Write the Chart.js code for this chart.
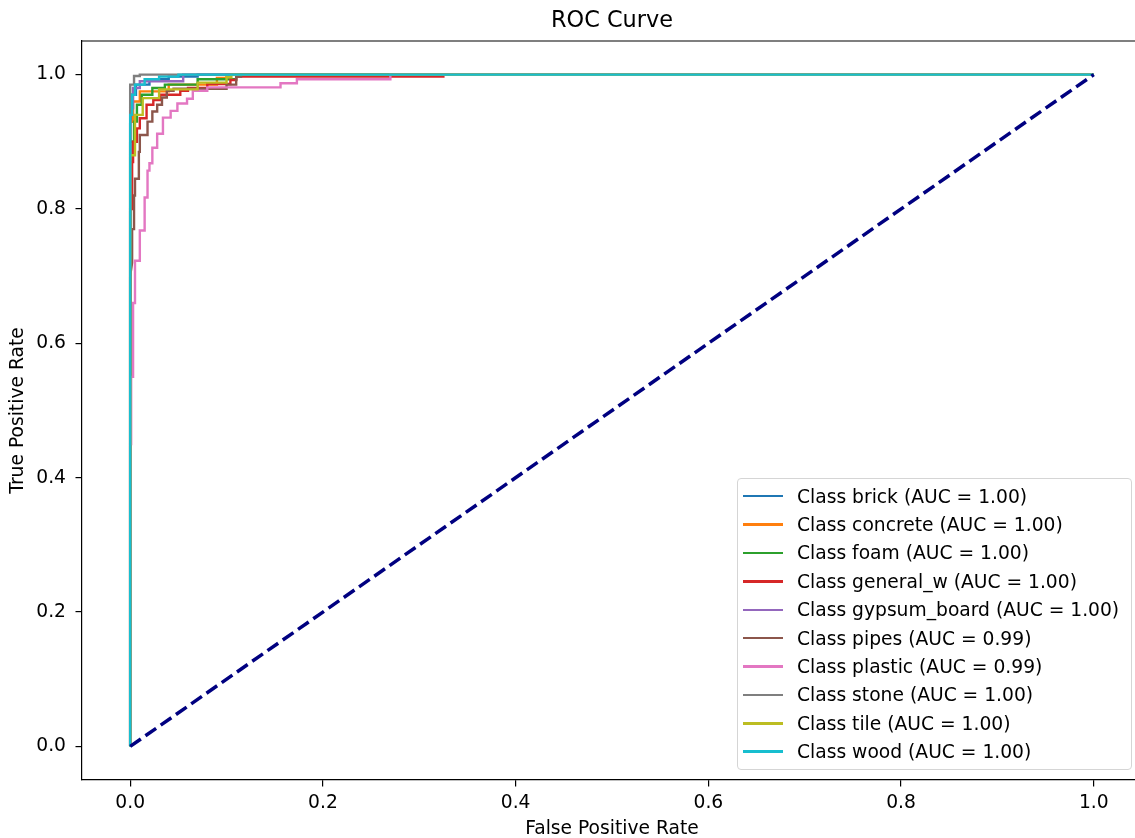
<!DOCTYPE html>
<html>
<head>
<meta charset="utf-8">
<script src="https://cdn.jsdelivr.net/npm/chart.js@4.4.0/dist/chart.umd.min.js"></script>
<style>
    body { margin: 0; overflow: hidden; background: #fff; }
    #wrap { position: relative; width: 1135px; height: 838px; overflow: hidden; }
    #legend {
        position: absolute; left: 737px; top: 478px; width: 395px;
        box-sizing: border-box; padding: 3px 0 3px 5px;
        background: rgba(255, 255, 255, 0.8);
        border: 1px solid #d5d5d5; border-radius: 4px;
        font-family: "DejaVu Sans", sans-serif; font-size: 18.7px; color: #000;
    }
    .row { display: flex; align-items: center; height: 28.4px; white-space: nowrap; }
    .swatch { width: 40px; height: 2.5px; margin-right: 14px; flex: none; }
</style>
</head>
<body>
<div id="wrap">
    <canvas id="roc" width="1147" height="838"></canvas>
    <div id="legend"></div>
</div>
<script>
const classNames = ['brick', 'concrete', 'foam', 'general_w', 'gypsum_board', 'pipes', 'plastic', 'stone', 'tile', 'wood'];
const aucValues = [1.00, 1.00, 1.00, 1.00, 1.00, 0.99, 0.99, 1.00, 1.00, 1.00];
const colors = ['#1f77b4', '#ff7f0e', '#2ca02c', '#d62728', '#9467bd', '#8c564b', '#e377c2', '#7f7f7f', '#bcbd22', '#17becf'];
const xTicks = [0, 0.2, 0.4, 0.6, 0.8, 1.0];
const yTicks = [0, 0.2, 0.4, 0.6, 0.8, 1.0];

// fpr / tpr per class (staircase corners)
const brickFpr = [0, 0, 0.002, 0.002, 0.006, 0.006, 0.02, 0.02, 0.04, 0.04, 0.07, 0.07, 1];
const brickTpr = [0, 0.93, 0.93, 0.97, 0.97, 0.985, 0.985, 0.993, 0.993, 0.997, 0.997, 1, 1];
const concreteFpr = [0, 0, 0.003, 0.003, 0.01, 0.01, 0.04, 0.04, 0.09, 0.09, 0.1, 0.1, 1];
const concreteTpr = [0, 0.93, 0.93, 0.96, 0.96, 0.975, 0.975, 0.985, 0.985, 0.995, 0.995, 1, 1];
const foamFpr = [0, 0, 0.004, 0.004, 0.007, 0.007, 0.012, 0.012, 0.023, 0.023, 0.036, 0.036, 0.07, 0.07, 0.11, 0.11, 1];
const foamTpr = [0, 0.90, 0.90, 0.93, 0.93, 0.955, 0.955, 0.97, 0.97, 0.98, 0.98, 0.985, 0.985, 0.993, 0.993, 1, 1];
const generalFpr = [0, 0, 0.002, 0.002, 0.003, 0.003, 0.007, 0.007, 0.010, 0.010, 0.017, 0.017, 0.024, 0.024, 0.031, 0.031, 0.052, 0.052, 0.06, 0.06, 0.08, 0.08, 0.104, 0.104, 0.11, 0.11, 0.325, 0.325, 1];
const generalTpr = [0, 0.80, 0.80, 0.87, 0.87, 0.90, 0.90, 0.92, 0.92, 0.935, 0.935, 0.955, 0.955, 0.962, 0.962, 0.97, 0.97, 0.976, 0.976, 0.98, 0.98, 0.986, 0.986, 0.992, 0.992, 0.997, 0.997, 1, 1];
const gypsumFpr = [0, 0, 0.003, 0.003, 0.01, 0.01, 0.055, 0.055, 1];
const gypsumTpr = [0, 0.95, 0.95, 0.98, 0.98, 0.99, 0.99, 1, 1];
const pipesFpr = [0, 0, 0.002, 0.002, 0.004, 0.004, 0.005, 0.005, 0.009, 0.009, 0.01, 0.01, 0.018, 0.018, 0.023, 0.023, 0.028, 0.028, 0.033, 0.033, 0.038, 0.038, 0.045, 0.045, 0.1, 0.1, 0.11, 0.11, 0.115, 0.115, 1];
const pipesTpr = [0, 0.70, 0.72, 0.77, 0.77, 0.82, 0.82, 0.845, 0.845, 0.885, 0.885, 0.91, 0.91, 0.93, 0.93, 0.945, 0.945, 0.955, 0.955, 0.966, 0.966, 0.976, 0.976, 0.979, 0.979, 0.985, 0.985, 0.997, 0.997, 1, 1];
const plasticFpr = [0, 0, 0.001, 0.001, 0.003, 0.003, 0.005, 0.005, 0.010, 0.010, 0.015, 0.015, 0.018, 0.018, 0.020, 0.020, 0.023, 0.023, 0.028, 0.028, 0.034, 0.034, 0.042, 0.042, 0.049, 0.049, 0.059, 0.059, 0.065, 0.065, 0.080, 0.080, 0.156, 0.156, 0.173, 0.173, 0.27, 0.27, 1];
const plasticTpr = [0, 0.45, 0.45, 0.55, 0.55, 0.66, 0.66, 0.723, 0.723, 0.768, 0.768, 0.817, 0.817, 0.857, 0.857, 0.868, 0.868, 0.891, 0.891, 0.912, 0.912, 0.936, 0.936, 0.946, 0.946, 0.957, 0.957, 0.964, 0.964, 0.976, 0.976, 0.981, 0.981, 0.987, 0.987, 0.993, 0.993, 1, 1];
const stoneFpr = [0, 0, 0.004, 0.004, 0.01, 0.01, 1];
const stoneTpr = [0, 0.985, 0.985, 0.998, 0.998, 1, 1];
const tileFpr = [0, 0, 0.005, 0.005, 0.013, 0.013, 0.03, 0.03, 0.07, 0.07, 0.1, 0.1, 0.105, 0.105, 1];
const tileTpr = [0, 0.88, 0.88, 0.94, 0.94, 0.965, 0.965, 0.978, 0.978, 0.988, 0.988, 0.996, 0.996, 1, 1];
const woodFpr = [0, 0, 0.002, 0.002, 0.005, 0.005, 0.015, 0.015, 0.03, 0.03, 0.05, 0.05, 1];
const woodTpr = [0, 0.94, 0.94, 0.97, 0.97, 0.985, 0.985, 0.993, 0.993, 0.997, 0.997, 1, 1];
const chanceFpr = [0, 1];
const chanceTpr = [0, 1];

const fprList = [brickFpr, concreteFpr, foamFpr, generalFpr, gypsumFpr, pipesFpr, plasticFpr, stoneFpr, tileFpr, woodFpr];
const tprList = [brickTpr, concreteTpr, foamTpr, generalTpr, gypsumTpr, pipesTpr, plasticTpr, stoneTpr, tileTpr, woodTpr];

function toPoints(xs, ys) {
    return xs.map((x, i) => ({ x: x, y: ys[i] }));
}

const datasets = classNames.map((name, i) => ({
    label: `Class ${name} (AUC = ${aucValues[i].toFixed(2)})`,
    data: toPoints(fprList[i], tprList[i]),
    borderColor: colors[i],
    borderWidth: 2.4,
    pointRadius: 0,
    fill: false,
    tension: 0,
    order: classNames.length - i + 1
}));
datasets.push({
    label: 'chance',
    data: toPoints(chanceFpr, chanceTpr),
    borderColor: '#000080',
    borderWidth: 3.5,
    borderDash: [13, 5.6],
    pointRadius: 0,
    fill: false,
    order: 0
});

const font = { family: '"DejaVu Sans", sans-serif', size: 18.7 };

function axis(title, ticks, fit) {
    return {
        type: 'linear',
        min: -0.05,
        max: 1.05,
        afterBuildTicks: s => { s.ticks = ticks.map(v => ({ value: v })); },
        afterFit: fit,
        ticks: {
            callback: v => v.toFixed(1),
            font: font,
            color: '#000',
            maxRotation: 0,
            autoSkip: false
        },
        grid: { drawOnChartArea: false, drawTicks: true, tickLength: 6.5, color: '#000', lineWidth: 1.2 },
        border: { display: true, color: '#000', width: 1.2 },
        title: { display: true, text: title, font: Object.assign({ lineHeight: 1 }, font), color: '#000' }
    };
}

const xAxis = axis('False Positive Rate', xTicks, s => { s.height = 58; });
xAxis.ticks.padding = 5;
xAxis.title.padding = { top: 0, bottom: 0 };
const yAxis = axis('True Positive Rate', yTicks, s => { s.width = 82; });
yAxis.ticks.padding = 9.5;
yAxis.title.padding = { top: 9, bottom: 0 };

// top spine + title, centred over the axes like matplotlib
const frame = {
    id: 'frame',
    afterDraw(chart) {
        const { ctx, chartArea: a } = chart;
        ctx.save();
        ctx.strokeStyle = '#000';
        ctx.lineWidth = 1.2;
        ctx.beginPath();
        ctx.moveTo(a.left, a.top);
        ctx.lineTo(a.right, a.top);
        ctx.stroke();
        ctx.fillStyle = '#000';
        ctx.font = '22.4px "DejaVu Sans", sans-serif';
        ctx.textAlign = 'center';
        ctx.textBaseline = 'middle';
        ctx.fillText('ROC Curve', (a.left + a.right) / 2, 21);
        ctx.restore();
    }
};

const chart = new Chart(document.getElementById('roc'), {
    type: 'line',
    data: { datasets: datasets },
    options: {
        responsive: false,
        animation: false,
        layout: { padding: { top: 41, right: 5, left: 0, bottom: 0 } },
        scales: { x: xAxis, y: yAxis },
        plugins: { legend: { display: false }, tooltip: { enabled: false } }
    },
    plugins: [frame]
});

const legend = document.getElementById('legend');
chart.data.datasets.slice(0, classNames.length).forEach(ds => {
    const row = document.createElement('div');
    row.className = 'row';
    const sw = document.createElement('span');
    sw.className = 'swatch';
    sw.style.background = ds.borderColor;
    const txt = document.createElement('span');
    txt.textContent = ds.label;
    row.appendChild(sw);
    row.appendChild(txt);
    legend.appendChild(row);
});
</script>
</body>
</html>
